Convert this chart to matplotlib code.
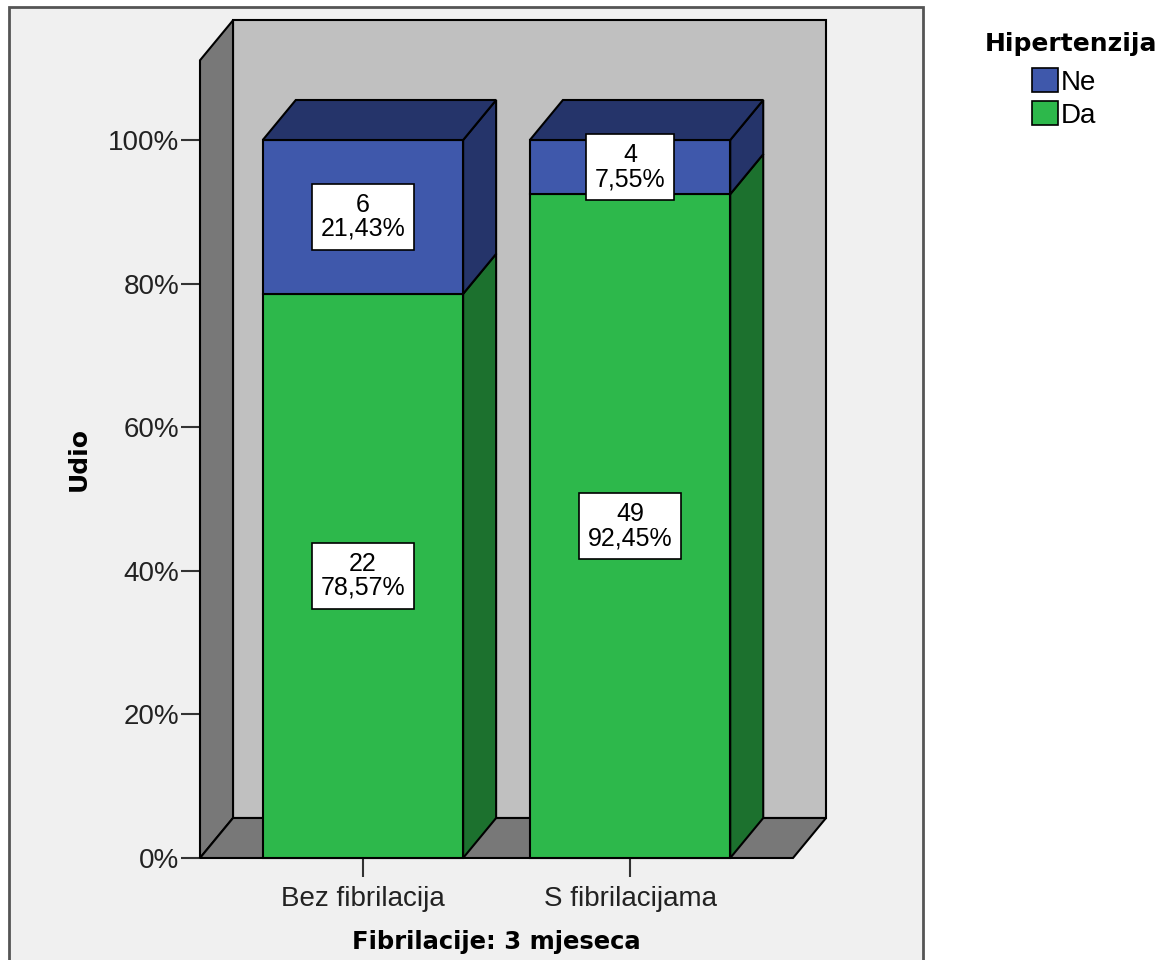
import numpy as np
import matplotlib
matplotlib.use("Agg")
import matplotlib.pyplot as plt
from matplotlib.patches import Polygon, Rectangle, Patch

categories = ["Bez fibrilacija", "S fibrilacijama"]
ne_counts = [6, 4]
da_counts = [22, 49]
legend_title = "Hipertenzija"
series_names = ["Ne", "Da"]
y_ticks = [0, 20, 40, 60, 80, 100]
y_tick_labels = ["0%", "20%", "40%", "60%", "80%", "100%"]

# colours (front, side/top)
blue, blue_dark = "#3f58ab", "#25346a"
green, green_dark = "#2db84b", "#1c712e"
wall, floor = "#c0c0c0", "#787878"

REG = "Liberation Sans"
BOLD = "DejaVu Sans"

W, H = 1161, 960
fig = plt.figure(figsize=(W / 100, H / 100), dpi=100)
fig.patch.set_facecolor("white")

# outer chart frame
fig.add_artist(Rectangle((9 / W, -0.02), (923 - 9) / W, 1 - 7 / H + 0.02,
                         transform=fig.transFigure, facecolor="#f0f0f0",
                         edgecolor="#555555", lw=2, zorder=-5))

ax = fig.add_axes([200 / W, (H - 858) / H, 593 / W, 718 / H])
ax.set_facecolor("none")
for s in ax.spines.values():
    s.set_visible(False)

x0, x1 = -0.61, 1.61
ax.set_xlim(x0, x1)
ax.set_ylim(0, 100)
dx, dy = 33 / 267, 40 / 7.18
top = 111.1
bw = 0.75

def poly(pts, fc, z):
    ax.add_patch(Polygon(pts, closed=True, facecolor=fc, edgecolor="black",
                         lw=1.5, zorder=z, clip_on=False, joinstyle="miter"))

# back wall, left wall, floor
poly([(x0 + dx, dy), (x1 + dx, dy), (x1 + dx, top + dy), (x0 + dx, top + dy)], wall, 1)
poly([(x0, 0), (x0 + dx, dy), (x0 + dx, top + dy), (x0, top)], floor, 2)
poly([(x0, 0), (x1, 0), (x1 + dx, dy), (x0 + dx, dy)], floor, 2)

totals = [a + b for a, b in zip(ne_counts, da_counts)]
for i in range(len(categories)):
    da_pct = da_counts[i] / totals[i] * 100
    ne_pct = ne_counts[i] / totals[i] * 100
    segs = [(0, da_pct, green, green_dark, da_counts[i], da_pct),
            (da_pct, 100, blue, blue_dark, ne_counts[i], ne_pct)]
    l, r = i - bw / 2, i + bw / 2
    for b, t, fc, dc, n, p in segs:
        poly([(r, b), (r + dx, b + dy), (r + dx, t + dy), (r, t)], dc, 3)
        poly([(l, b), (r, b), (r, t), (l, t)], fc, 4)
    poly([(l, 100), (r, 100), (r + dx, 100 + dy), (l + dx, 100 + dy)], blue_dark, 4)
    for b, t, fc, dc, n, p in segs:
        ax.text(i, (b + t) / 2, f"{n}\n{p:.2f}".replace(".", ",") + "%",
                ha="center", va="center", fontsize=18, family=REG,
                linespacing=1.0, zorder=6,
                bbox=dict(boxstyle="square,pad=0.36", fc="white", ec="black", lw=1.2))

ax.set_yticks(y_ticks)
ax.set_yticklabels(y_tick_labels)
ax.set_xticks(range(len(categories)))
ax.set_xticklabels(categories)
ax.tick_params(axis="both", length=14, width=1.5, color="#333333", labelsize=20,
               labelcolor="#222222")
ax.tick_params(axis="y", pad=1)
ax.tick_params(axis="x", pad=6)
for lab in ax.get_xticklabels() + ax.get_yticklabels():
    lab.set_family(REG)

fig.text(79 / W, 1 - 459 / H, "Udio", rotation=90, ha="center", va="center",
         fontsize=18, fontweight="bold", family=BOLD)
fig.text(496 / W, 1 - 942 / H, "Fibrilacije: 3 mjeseca", ha="center", va="center",
         fontsize=17.5, fontweight="bold", family=BOLD)

# legend
fig.text(1071 / W, 1 - 44 / H, legend_title, ha="center", va="center",
         fontsize=18, fontweight="bold", family=BOLD)
handles = [Patch(facecolor=blue, edgecolor="black", lw=1.2),
           Patch(facecolor=green, edgecolor="black", lw=1.2)]
leg = fig.legend(handles, series_names, loc="upper left",
                 bbox_to_anchor=(1032 / W, 1 - 68 / H), frameon=False,
                 prop={"family": REG, "size": 20},
                 handlelength=0.95, handleheight=0.95, handletextpad=0.08,
                 labelspacing=0.2, borderpad=0, borderaxespad=0)

fig.savefig("out.png", dpi=100)
